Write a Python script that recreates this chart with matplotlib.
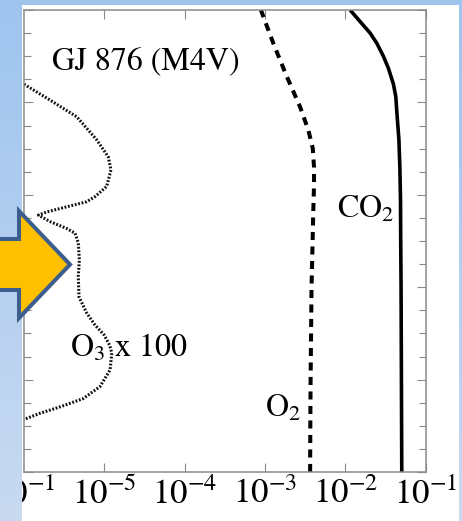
import numpy as np
import matplotlib
matplotlib.use("Agg")
import matplotlib.pyplot as plt
from matplotlib.colors import LinearSegmentedColormap
from matplotlib.patches import Polygon, Rectangle
from matplotlib.ticker import (FixedLocator, FixedFormatter, LogLocator,
                               MultipleLocator, NullFormatter)

plt.rcParams["font.family"] = ["STIXGeneral", "DejaVu Serif"]
plt.rcParams["mathtext.fontset"] = "stix"

# ---- profiles (altitude in km, volume mixing ratio) ----
altitude_co2 = [0, 20, 40, 50, 59, 66, 72, 78, 81.2, 84, 87.4, 90, 92.8, 95,
                97.1, 100]
co2 = [0.0505, 0.0500, 0.0495, 0.0490, 0.0487, 0.0478, 0.0465, 0.0438,
       0.0426, 0.0397, 0.0344, 0.0298, 0.0247, 0.0204, 0.0160, 0.0115]

altitude_o2 = [0, 10, 20, 30, 40, 50, 56, 62, 66, 70, 74, 79, 85.6, 92.8, 100]
o2 = [3.65e-3, 3.67e-3, 3.70e-3, 3.75e-3, 3.80e-3, 3.92e-3, 3.99e-3, 4.08e-3,
      4.08e-3, 3.94e-3, 3.47e-3, 2.74e-3, 1.87e-3, 1.27e-3, 8.9e-4]

altitude_o3 = [85.5, 83.8, 80.5, 76.9, 71.9, 68.2, 65.4, 61.8, 59.6, 58.5,
               57.4, 56.3, 55.6, 54.2, 52.7, 51.7, 49.6, 45.9, 42.3, 37.9,
               34.4, 31.8, 29.7, 27.5, 25.8, 22.1, 18.5, 15.9, 14.1, 12.7,
               11.6, 11.0]
o3 = [7.08e-9, 1.03e-8, 2.11e-8, 4.53e-8, 8.04e-8, 1.12e-7, 1.21e-7, 1.07e-7,
      7.66e-8, 6.04e-8, 3.40e-8, 1.92e-8, 1.51e-8, 2.11e-8, 3.40e-8, 4.32e-8,
      4.74e-8, 4.89e-8, 4.74e-8, 4.84e-8, 6.04e-8, 7.66e-8, 9.91e-8, 1.16e-7,
      1.24e-7, 1.18e-7, 8.83e-8, 5.47e-8, 2.81e-8, 1.58e-8, 1.08e-8, 7.76e-9]
o3_scale = 100

x_ticks = [1e-5, 1e-4, 1e-3, 1e-2, 1e-1]
x_tick_labels = [r"$10^{-5}$", r"$10^{-4}$", r"$10^{-3}$", r"$10^{-2}$",
                 r"$10^{-1}$"]
neighbour_label = r"$10^{-1}$"   # last tick label of the panel to the left
title = "GJ 876 (M4V)"

W, H = 462, 521
fig = plt.figure(figsize=(W / 100, H / 100), dpi=100)

slide_cmap = LinearSegmentedColormap.from_list("slide", ["#9ec4ee", "#c9daf1"])
gradient = np.linspace(0, 1, 256)[:, None]

# slide background with the white picture area on it
bg = fig.add_axes([0, 0, 1, 1], zorder=0)
bg.set_axis_off()
bg.imshow(gradient, cmap=slide_cmap, aspect="auto", extent=[0, W, H, 0])
bg.add_patch(Rectangle((22, 5), 437, 520, facecolor="white", edgecolor="none"))
bg.set_xlim(0, W)
bg.set_ylim(H, 0)

# profile panel
ax = fig.add_axes([24 / W, (H - 472) / H, 401.6 / W, 462 / H], zorder=1)
ax.patch.set_alpha(0)
ax.set_xscale("log")
ax.set_xlim(1e-6, 1e-1)
ax.set_ylim(0, 100)

ax.plot(co2, altitude_co2, color="black", lw=2.6, solid_capstyle="butt")
ax.plot(o2, altitude_o2, color="black", lw=2.9, linestyle=(0, (2.0, 1.6)),
        dash_capstyle="butt")
ax.plot(np.array(o3) * o3_scale, altitude_o3, color="#111111", lw=2.2,
        linestyle=(0, (0.6, 0.55)), dash_capstyle="butt")

ax.text(10 ** -5.651, 87.0, title, fontsize=23, ha="left", va="baseline")
ax.text(10 ** -2.106, 55.0, "CO$_2$", fontsize=23, ha="left", va="baseline")
ax.text(10 ** -5.427, 24.9, "O$_3$ x 100", fontsize=23, ha="left", va="baseline")
ax.text(10 ** -2.999, 11.9, "O$_2$", fontsize=23, ha="left", va="baseline")

ax.xaxis.set_major_locator(FixedLocator(x_ticks))
ax.xaxis.set_major_formatter(FixedFormatter(x_tick_labels))
ax.xaxis.set_minor_locator(LogLocator(base=10, subs=np.arange(2, 10)))
ax.xaxis.set_minor_formatter(NullFormatter())
ax.yaxis.set_major_locator(MultipleLocator(20))
ax.yaxis.set_minor_locator(MultipleLocator(5))

frame_grey = "#8a8a8a"
tick_pad = 4.5
label_size = 25
ax.tick_params(which="both", direction="in", top=True, right=True,
               color=frame_grey, width=0.8, labelleft=False,
               labelsize=label_size, pad=tick_pad)
ax.tick_params(which="major", length=6.5)
ax.tick_params(which="minor", length=3.2)
ax.tick_params(axis="y", which="minor", length=5.0)
for s in ax.spines.values():
    s.set_color(frame_grey)
    s.set_linewidth(1.1)

ax.annotate(neighbour_label, xy=(1e-6, 0), xycoords=("data", "axes fraction"),
            xytext=(0, -tick_pad), textcoords="offset points",
            ha="center", va="top", fontsize=label_size, annotation_clip=False)

# slide edge and the pointer arrow drawn over the picture
top = fig.add_axes([0, 0, 1, 1], zorder=2)
top.set_axis_off()
top.patch.set_alpha(0)
top.imshow(gradient, cmap=slide_cmap, aspect="auto", extent=[0, 22, H, 0])
arrow = Polygon([(-10, 239), (19, 239), (19, 211), (70, 264.5), (19, 318),
                 (19, 290), (-10, 290)], closed=True, facecolor="#ffc000",
                edgecolor="#3c5e8e", lw=2.9, joinstyle="miter")
top.add_patch(arrow)
top.set_xlim(0, W)
top.set_ylim(H, 0)

fig.savefig("out.png", dpi=100)
